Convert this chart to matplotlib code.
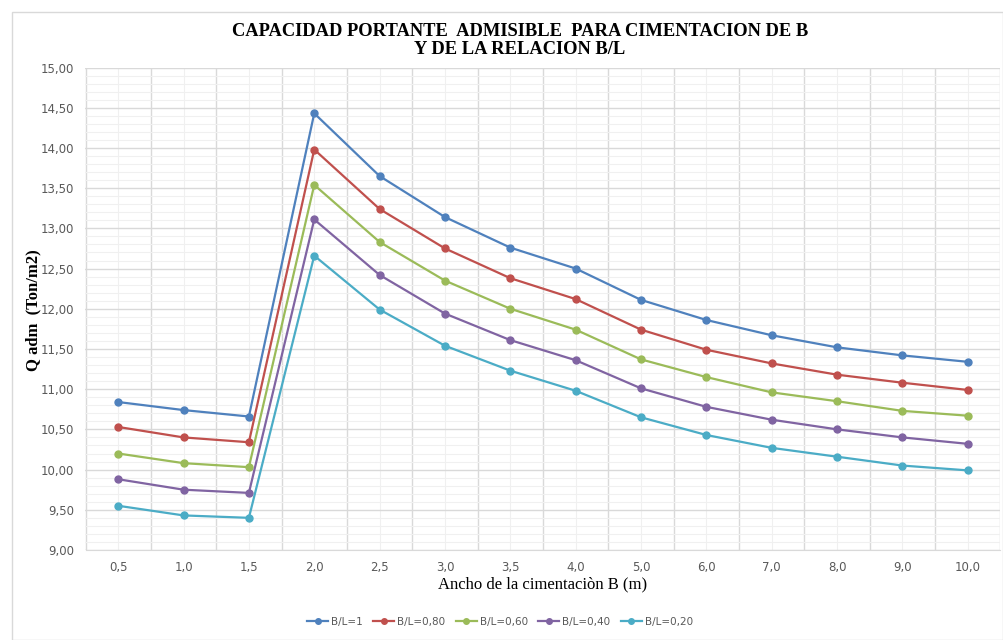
import matplotlib
matplotlib.use("Agg")
import matplotlib.pyplot as plt
from matplotlib.ticker import MultipleLocator, FixedLocator, FuncFormatter
from matplotlib.patches import Rectangle

categories = ["0,5", "1,0", "1,5", "2,0", "2,5", "3,0", "3,5", "4,0",
              "5,0", "6,0", "7,0", "8,0", "9,0", "10,0"]
bl_100 = [10.84, 10.74, 10.66, 14.43, 13.65, 13.14, 12.76, 12.50, 12.11, 11.86, 11.67, 11.52, 11.42, 11.34]
bl_080 = [10.53, 10.40, 10.34, 13.98, 13.24, 12.75, 12.38, 12.12, 11.74, 11.49, 11.32, 11.18, 11.08, 10.99]
bl_060 = [10.20, 10.08, 10.03, 13.54, 12.83, 12.35, 12.00, 11.74, 11.37, 11.15, 10.96, 10.85, 10.73, 10.67]
bl_040 = [9.88, 9.75, 9.71, 13.11, 12.42, 11.94, 11.61, 11.36, 11.01, 10.78, 10.62, 10.50, 10.40, 10.32]
bl_020 = [9.55, 9.43, 9.40, 12.66, 11.99, 11.54, 11.23, 10.98, 10.65, 10.43, 10.27, 10.16, 10.05, 9.99]
series_labels = ["B/L=1", "B/L=0,80", "B/L=0,60", "B/L=0,40", "B/L=0,20"]
series = [bl_100, bl_080, bl_060, bl_040, bl_020]
colors = ["#4F81BD", "#C0504D", "#9BBB59", "#8064A2", "#4BACC6"]

W, H = 1004, 640
fig = plt.figure(figsize=(W / 100, H / 100), dpi=100)
fig.patch.set_facecolor("white")
fig.add_artist(Rectangle((12 / W, 0), (W - 13) / W, (H - 12) / H, transform=fig.transFigure,
                         fill=False, edgecolor="#D9D9D9", linewidth=1))

left, right, top, bottom = 85.5, 1000.5, 67.5, 550
ax = fig.add_axes([left / W, 1 - bottom / H, (right - left) / W, (bottom - top) / H])

x = list(range(len(categories)))
for vals, lab, c in zip(series, series_labels, colors):
    ax.plot(x, vals, color=c, linewidth=1.6, marker="o", markersize=5, label=lab, zorder=3)

ax.set_xlim(-0.5, len(categories) - 0.5)
ax.set_ylim(9, 15)
ax.yaxis.set_major_locator(MultipleLocator(0.5))
ax.yaxis.set_minor_locator(MultipleLocator(0.1))
ax.yaxis.set_major_formatter(FuncFormatter(lambda v, p: f"{v:.2f}".replace(".", ",")))
ax.xaxis.set_major_locator(FixedLocator(x))
ax.set_xticklabels(categories)
ax.xaxis.set_minor_locator(FixedLocator([i + 0.5 for i in range(-1, len(categories))]))

ax.grid(which="major", axis="y", color="#D9D9D9", linewidth=1)
ax.grid(which="minor", axis="y", color="#F0F0F0", linewidth=0.8)
ax.grid(which="minor", axis="x", color="#D9D9D9", linewidth=1)
ax.grid(which="major", axis="x", color="#F0F0F0", linewidth=0.8)
ax.set_axisbelow(True)

for s in ["top", "right", "left"]:
    ax.spines[s].set_visible(False)
ax.spines["bottom"].set_color("#D9D9D9")
ax.tick_params(which="both", length=0, colors="#595959", labelsize=8.5)
ax.tick_params(axis="x", pad=8)
ax.tick_params(axis="y", pad=8)

fig.text(520 / W, 1 - 31 / H, "CAPACIDAD PORTANTE  ADMISIBLE  PARA CIMENTACION DE B",
         ha="center", va="center", fontfamily="Liberation Serif", fontweight="bold", fontsize=13.3)
fig.text(520 / W, 1 - 49 / H, "Y DE LA RELACION B/L",
         ha="center", va="center", fontfamily="Liberation Serif", fontweight="bold", fontsize=13.3)

fig.text(33 / W, 1 - 310 / H, "Q adm  (Ton/m2)", rotation=90, ha="center", va="center",
         fontfamily="Liberation Serif", fontweight="bold", fontsize=12)
fig.text(543 / W, 1 - 584 / H, "Ancho de la cimentaciòn B (m)", ha="center", va="center",
         fontfamily="Liberation Serif", fontsize=12)

leg = fig.legend(loc="center", bbox_to_anchor=(500 / W, 1 - 622 / H), ncol=5, frameon=False,
                 fontsize=7.5, handlelength=2.0, columnspacing=1.0, handletextpad=0.3, markerscale=0.8)
for t in leg.get_texts():
    t.set_color("#595959")

fig.savefig("out.png", dpi=100)
